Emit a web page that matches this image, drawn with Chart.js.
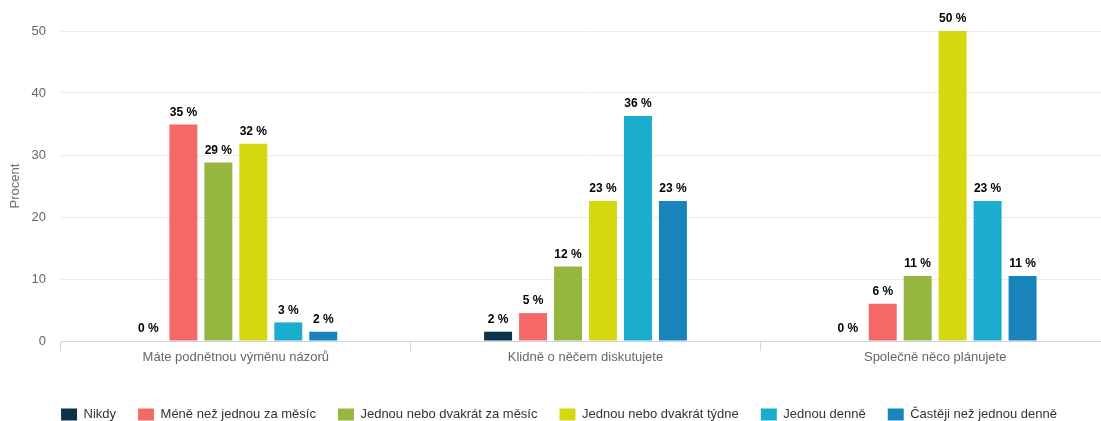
<!DOCTYPE html>
<html>
<head>
<meta charset="utf-8">
<script src="https://cdn.jsdelivr.net/npm/chart.js@4"></script>
<style>
  html, body { margin: 0; padding: 0; background: #fff; overflow: hidden; }
  #wrap { width: 1110px; height: 431px; }
</style>
</head>
<body>
<div id="wrap"><canvas id="chart" width="1110" height="431"></canvas></div>
<script>
// kategorie (otázky)
const categories = ['Máte podnětnou výměnu názorů', 'Klidně o něčem diskutujete', 'Společně něco plánujete'];

// série – podíl odpovědí v procentech
const seriesNames = ['Nikdy', 'Méně než jednou za měsíc', 'Jednou nebo dvakrát za měsíc', 'Jednou nebo dvakrát týdne', 'Jednou denně', 'Častěji než jednou denně'];
const nikdy = [0, 1.5, 0];
const meneNezMesicne = [34.9, 4.5, 6.0];
const mesicne = [28.8, 12.0, 10.5];
const tydne = [31.8, 22.6, 50.0];
const denne = [3.0, 36.3, 22.6];
const castejiNezDenne = [1.5, 22.6, 10.5];
const seriesValues = [nikdy, meneNezMesicne, mesicne, tydne, denne, castejiNezDenne];
const seriesColors = ['#0b3249', '#f56868', '#95b73f', '#d6d80f', '#1badce', '#1984bb'];

const yTicks = [0, 10, 20, 30, 40, 50];

const FONT = "'Liberation Sans', Arial, sans-serif";

// popisky nad sloupci
const valueLabels = {
  id: 'valueLabels',
  afterDatasetsDraw(chart) {
    const ctx = chart.ctx;
    ctx.save();
    ctx.font = 'bold 12px ' + FONT;
    ctx.fillStyle = '#000';
    ctx.textAlign = 'center';
    ctx.textBaseline = 'bottom';
    chart.data.datasets.forEach((ds, i) => {
      chart.getDatasetMeta(i).data.forEach((bar, j) => {
        ctx.fillText(Math.round(ds.data[j]) + ' %', bar.x, bar.y - 6);
      });
    });
    ctx.restore();
  }
};

new Chart(document.getElementById('chart'), {
  type: 'bar',
  data: {
    labels: categories,
    datasets: seriesNames.map((name, i) => ({
      label: name,
      data: seriesValues[i],
      backgroundColor: seriesColors[i],
      borderWidth: 0,
      categoryPercentage: 0.6,
      barPercentage: 0.8
    }))
  },
  options: {
    responsive: false,
    animation: false,
    layout: { padding: { left: 8, top: 31, right: 0, bottom: 0 } },
    scales: {
      x: {
        grid: {
          display: true,
          drawOnChartArea: false,
          drawTicks: true,
          tickLength: 10,
          color: '#ccd6eb',
          offset: true
        },
        border: { display: true, color: '#ccd6eb' },
        ticks: {
          color: '#666',
          font: { family: FONT, size: 13 },
          padding: -1
        },
        afterFit: (scale) => { scale.height = 45; }
      },
      y: {
        min: 0,
        max: 50,
        afterBuildTicks: (scale) => { scale.ticks = yTicks.map(v => ({ value: v })); },
        grid: { color: '#ebebeb', drawTicks: false },
        border: { display: false },
        ticks: {
          color: '#666',
          font: { family: FONT, size: 13 },
          padding: 15
        },
        title: {
          display: true,
          text: 'Procent',
          color: '#707070',
          font: { family: FONT, size: 13 },
          padding: { top: 0, bottom: 8 }
        },
        afterFit: (scale) => { scale.width = 53; }
      }
    },
    plugins: {
      legend: {
        position: 'bottom',
        labels: {
          boxWidth: 16,
          boxHeight: 12,
          padding: 22,
          color: '#333',
          font: { family: FONT, size: 13 }
        }
      },
      tooltip: { enabled: false }
    }
  },
  plugins: [valueLabels]
});
</script>
</body>
</html>
